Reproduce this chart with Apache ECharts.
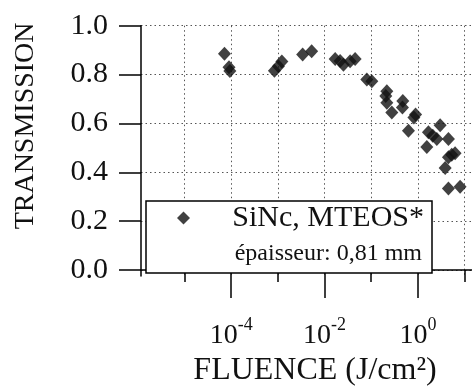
<!DOCTYPE html>
<html>
<head>
<meta charset="utf-8">
<script src="https://cdn.jsdelivr.net/npm/echarts@6/dist/echarts.min.js"></script>
<style>
html,body{margin:0;padding:0;background:#fff;}
#c{width:472px;height:392px;}
</style>
</head>
<body>
<div id="c"></div>
<script>
// ---- data ----
const fluence = [7.2e-5, 9.0e-5, 9.4e-5, 8.45e-4, 1.03e-3, 1.22e-3, 3.4e-3, 5.3e-3,
  0.0169, 0.0216, 0.0254, 0.0353, 0.0452, 0.0805, 0.103, 0.216, 0.205, 0.216, 0.276,
  0.475, 0.466, 0.89, 0.82, 0.627, 1.68, 2.08, 2.54, 2.99, 4.5, 1.55, 4.5, 5.3, 6.25,
  3.83, 4.5, 8.0];
const transmission = [0.885, 0.83, 0.815, 0.816, 0.834, 0.853, 0.882, 0.895,
  0.864, 0.856, 0.840, 0.854, 0.864, 0.780, 0.773, 0.732, 0.712, 0.685, 0.645,
  0.692, 0.665, 0.637, 0.624, 0.570, 0.564, 0.550, 0.536, 0.593, 0.536, 0.503, 0.462, 0.472, 0.478,
  0.418, 0.334, 0.341];
const xTickValues = [1e-5, 1e-4, 1e-3, 1e-2, 1e-1, 1, 10];
const xLabelValues = [1e-4, 1e-2, 1];
const yTickValues = [0, 0.2, 0.4, 0.6, 0.8, 1.0];
const seriesName = 'SiNc, MTEOS*';
const legendNote = 'épaisseur: 0,81 mm';
const xTitle = 'FLUENCE (J/cm²)';
const yTitle = 'TRANSMISSION';

const FONT = "'Liberation Serif', 'Times New Roman', serif";
const points = fluence.map((f, i) => [f, transmission[i]]);
const dotted = { type: [1.5, 3], color: '#555', width: 1 };
const X_MIN = Math.pow(10, -5.93);
const X_MAX = Math.pow(10, 1.158);

const chart = echarts.init(document.getElementById('c'), null, { renderer: 'canvas' });
chart.setOption({
  animation: false,
  backgroundColor: '#fff',
  grid: { left: 141, top: 25.7, right: 0, bottom: 113.7, containLabel: false },
  xAxis: [
    {
      type: 'log', logBase: 10, min: X_MIN, max: X_MAX,
      position: 'bottom',
      axisLine: { show: true, lineStyle: { color: '#000', width: 1.5 } },
      axisTick: { show: true, customValues: xTickValues, length: 12, lineStyle: { color: '#000', width: 1.5 } },
      axisLabel: { show: false },
      splitLine: { show: true, lineStyle: dotted },
      minorTick: { show: false }
    },
    {
      type: 'log', logBase: 10, min: X_MIN, max: X_MAX,
      position: 'bottom',
      axisLine: { show: false },
      axisTick: { show: true, customValues: xLabelValues, length: 22, lineStyle: { color: '#000', width: 1.5 } },
      axisLabel: {
        show: true, customValues: xLabelValues, margin: 40,
        formatter: function (v) {
          const e = Math.round(Math.log10(v));
          return '{b|10}{s|' + e + '}';
        },
        rich: {
          b: { fontFamily: FONT, fontSize: 28, color: '#111', lineHeight: 40 },
          s: { fontFamily: FONT, fontSize: 18, color: '#111', verticalAlign: 'top', lineHeight: 18 }
        }
      },
      splitLine: { show: false },
      name: xTitle, nameLocation: 'middle', nameGap: 69,
      nameTextStyle: { fontFamily: FONT, fontSize: 32, color: '#111', padding: [0, 0, 0, 17] }
    }
  ],
  yAxis: {
    type: 'value', min: -0.025, max: 1.0,
    axisLine: { show: true, lineStyle: { color: '#000', width: 1.5 } },
    axisTick: { show: true, customValues: yTickValues, length: 22, lineStyle: { color: '#000', width: 1.5 } },
    axisLabel: {
      show: true, customValues: yTickValues, margin: 33,
      formatter: v => v.toFixed(1),
      fontFamily: FONT, fontSize: 30, color: '#111'
    },
    splitLine: { show: true, lineStyle: dotted },
    name: yTitle, nameLocation: 'middle', nameGap: 101,
    nameTextStyle: { fontFamily: FONT, fontSize: 28, color: '#111', padding: [0, 0, 0, 50] }
  },
  legend: {
    show: true, data: [seriesName], left: 146, top: 201, orient: 'vertical',
    padding: [2, 8, 40, 31],
    backgroundColor: '#fff', borderColor: '#000', borderWidth: 1.5, borderRadius: 0,
    icon: 'diamond', itemWidth: 13, itemHeight: 13,
    formatter: name => '{a|' + name + '}',
    textStyle: {
      rich: { a: { fontFamily: FONT, fontSize: 30, color: '#111', width: 229, align: 'right', lineHeight: 36 } }
    }
  },
  graphic: [
    {
      type: 'text', right: 472 - 422, top: 242, z: 100,
      style: { text: legendNote, font: "24px 'Liberation Serif', 'Times New Roman', serif", fill: '#111' }
    }
  ],
  series: [
    {
      name: seriesName, type: 'scatter', xAxisIndex: 0, yAxisIndex: 0,
      data: points, symbol: 'diamond', symbolSize: [13, 14],
      itemStyle: { color: '#111' }
    }
  ]
});
</script>
</body>
</html>
